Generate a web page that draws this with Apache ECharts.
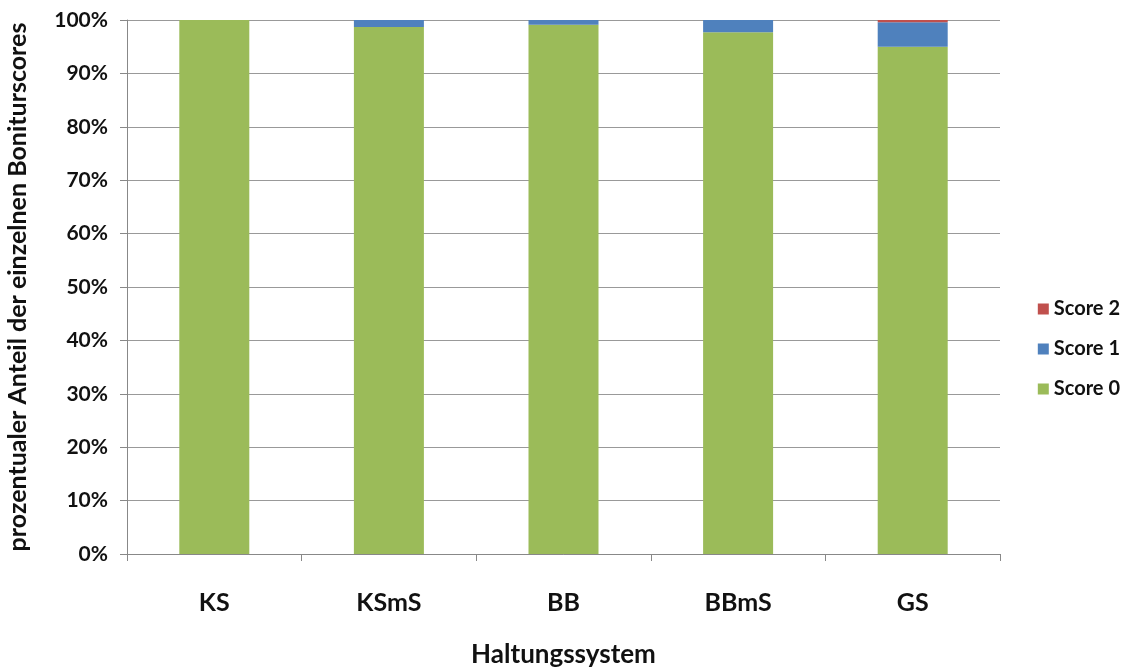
<!DOCTYPE html>
<html>
<head>
<meta charset="utf-8">
<script src="https://cdn.jsdelivr.net/npm/echarts@6/dist/echarts.min.js"></script>
<style>
html,body{margin:0;padding:0;background:#fff;}
#chart{width:1126px;height:667px;}
</style>
</head>
<body>
<div id="chart"></div>
<script>
// Haltungssysteme und Anteile der Boniturscores (in %)
const categories = ['KS', 'KSmS', 'BB', 'BBmS', 'GS'];
const score0 = [100, 98.7, 99.1, 97.7, 95.0];
const score1 = [0, 1.3, 0.9, 2.3, 4.6];
const score2 = [0, 0, 0, 0, 0.4];
const yTicks = [0, 10, 20, 30, 40, 50, 60, 70, 80, 90, 100];

const FONT = 'Lato, "Open Sans", sans-serif';
const chart = echarts.init(document.getElementById('chart'));

chart.setOption({
  animation: false,
  grid: { left: 127, right: 126, top: 20, bottom: 113, containLabel: false, outerBoundsMode: 'none' },
  legend: {
    orient: 'vertical',
    right: 1,
    top: 294,
    itemWidth: 11,
    itemHeight: 11,
    itemGap: 20,
    icon: 'rect',
    data: ['Score 2', 'Score 1', 'Score 0'],
    textStyle: { fontFamily: FONT, fontWeight: 'bold', fontSize: 20, color: '#111' }
  },
  xAxis: {
    type: 'category',
    data: categories,
    boundaryGap: true,
    axisLine: { lineStyle: { color: '#888', width: 1 } },
    axisTick: { show: true, length: 7, lineStyle: { color: '#888' } },
    axisLabel: { fontFamily: FONT, fontWeight: 'bold', fontSize: 25, color: '#111', margin: 36 },
    name: 'Haltungssystem',
    nameLocation: 'middle',
    nameGap: 88,
    nameTextStyle: { fontFamily: FONT, fontWeight: 'bold', fontSize: 26, color: '#111' }
  },
  yAxis: {
    type: 'value',
    min: yTicks[0],
    max: yTicks[yTicks.length - 1],
    interval: 10,
    axisLine: { show: true, lineStyle: { color: '#888', width: 1 } },
    axisTick: { show: true, length: 7, lineStyle: { color: '#888' } },
    splitLine: { lineStyle: { color: '#999', width: 1 } },
    axisLabel: { fontFamily: FONT, fontWeight: 'bold', fontSize: 21, color: '#111', margin: 19,
      formatter: v => v + '%' },
    name: 'prozentualer Anteil der einzelnen Boniturscores',
    nameLocation: 'middle',
    nameGap: 97,
    nameRotate: 90,
    nameTextStyle: { fontFamily: FONT, fontWeight: 'bold', fontSize: 25, color: '#111' }
  },
  series: [
    { name: 'Score 0', type: 'bar', stack: 'a', data: score0, barWidth: 70,
      itemStyle: { color: '#9BBB59' } },
    { name: 'Score 1', type: 'bar', stack: 'a', data: score1, barWidth: 70,
      itemStyle: { color: '#4F81BD' } },
    { name: 'Score 2', type: 'bar', stack: 'a', data: score2, barWidth: 70,
      itemStyle: { color: '#C0504D' } }
  ]
});
</script>
</body>
</html>
